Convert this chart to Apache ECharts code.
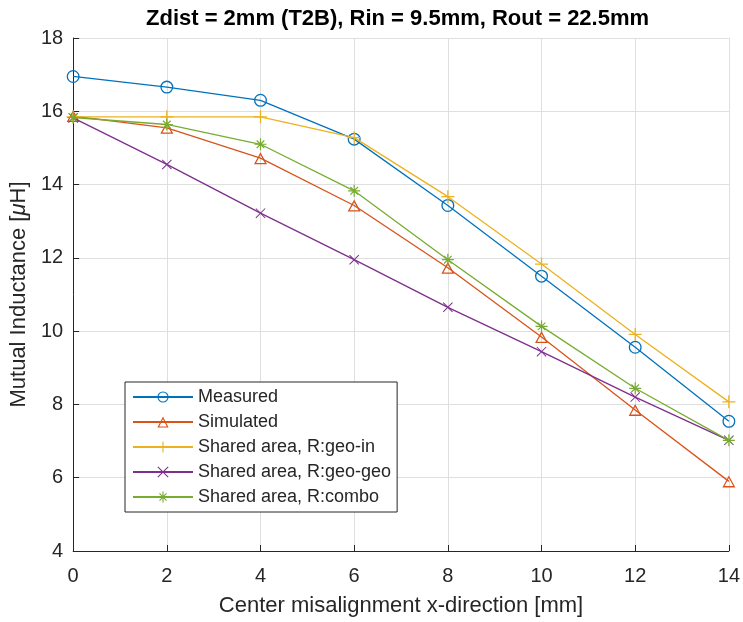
<!DOCTYPE html>
<html>
<head>
<meta charset="utf-8">
<script src="https://cdn.jsdelivr.net/npm/echarts@6/dist/echarts.min.js"></script>
<style>html,body{margin:0;padding:0;background:#fff}#c{width:743px;height:622px}</style>
</head>
<body>
<div id="c"></div>
<script>
const xValues = [0, 2, 4, 6, 8, 10, 12, 14];
const measured = [16.95, 16.66, 16.30, 15.24, 13.43, 11.50, 9.56, 7.54];
const simulated = [15.87, 15.55, 14.72, 13.43, 11.73, 9.84, 7.85, 5.90];
const geoIn = [15.85, 15.85, 15.85, 15.28, 13.67, 11.83, 9.91, 8.07];
const geoGeo = [15.82, 14.55, 13.22, 11.95, 10.65, 9.44, 8.20, 7.02];
const combo = [15.83, 15.64, 15.10, 13.83, 11.95, 10.13, 8.44, 7.02];
const seriesNames = ['Measured', 'Simulated', 'Shared area, R:geo-in', 'Shared area, R:geo-geo', 'Shared area, R:combo'];
const yTicks = [4, 6, 8, 10, 12, 14, 16, 18];

const colors = ['#0072BD', '#D95319', '#EDB120', '#7E2F8E', '#77AC30'];
const symCircle = 'path://M6,0A6,6,0,1,1,6,12A6,6,0,1,1,6,0ZM6,1.2A4.8,4.8,0,1,0,6,10.8A4.8,4.8,0,1,0,6,1.2Z';
const symTri = 'path://M6,0L12,11L0,11ZM6,2.5L1.95,9.8L10.05,9.8Z';
const symPlus = 'path://M5.4,0H6.6V12H5.4ZM0,5.4H12V6.6H0Z';
const symX = 'path://M0,0.85L0.85,0L12,11.15L11.15,12ZM11.15,0L12,0.85L0.85,12L0,11.15Z';
const symStar = 'path://M5.4,0H6.6V12H5.4ZM0,5.4H12V6.6H0ZM1.8,2.65L2.65,1.8L10.2,9.35L9.35,10.2ZM9.35,1.8L10.2,2.65L2.65,10.2L1.8,9.35Z';
const symbols = [symCircle, symTri, symPlus, symX, symStar];
const symSizes = [13, [13, 12], 13, 10, 12];
const dataSets = [measured, simulated, geoIn, geoGeo, combo];

const chart = echarts.init(document.getElementById('c'), null, {renderer: 'canvas'});
const font = 'Arial, "Liberation Sans", Helvetica, sans-serif';
const txt = '#262626';

chart.setOption({
  animation: false,
  backgroundColor: '#fff',
  title: {
    text: 'Zdist = 2mm (T2B), Rin = 9.5mm, Rout = 22.5mm',
    left: 146, top: 8, padding: 0,
    textStyle: {fontFamily: font, fontSize: 22, fontWeight: 'bold', color: '#000'}
  },
  grid: {left: 72, right: 12, top: 38, bottom: 64},
  legend: {
    orient: 'vertical',
    left: 125, top: 382,
    padding: [5, 6, 5, 7],
    itemGap: 5,
    itemWidth: 60, itemHeight: 14,
    backgroundColor: '#fff',
    borderColor: '#262626', borderWidth: 1,
    textStyle: {fontFamily: font, fontSize: 18, color: txt, lineHeight: 20},
    data: seriesNames
  },
  xAxis: {
    type: 'value', min: 0, max: 14, interval: 2,
    name: 'Center misalignment x-direction [mm]',
    nameLocation: 'middle', nameGap: 44,
    nameTextStyle: {fontFamily: font, fontSize: 22, color: txt},
    axisLine: {lineStyle: {color: txt, width: 1}},
    axisTick: {inside: true, length: 6, lineStyle: {color: txt}},
    axisLabel: {fontFamily: font, fontSize: 20, color: txt, margin: 15},
    splitLine: {show: true, lineStyle: {color: '#dfdfdf', width: 1}}
  },
  yAxis: {
    type: 'value', min: yTicks[0], max: yTicks[yTicks.length - 1], interval: 2,
    name: '{a|Mutual Inductance [}{b|μ}{a|H]}',
    nameLocation: 'middle', nameGap: 41,
    nameTextStyle: {
      fontFamily: font, fontSize: 22, color: txt,
      rich: {
        a: {fontFamily: font, fontSize: 22, color: txt},
        b: {fontFamily: font, fontSize: 22, color: txt, fontStyle: 'italic'}
      }
    },
    axisLine: {show: true, lineStyle: {color: txt, width: 1}},
    axisTick: {show: true, inside: true, length: 6, lineStyle: {color: txt}},
    axisLabel: {fontFamily: font, fontSize: 20, color: txt, margin: 10},
    splitLine: {show: true, lineStyle: {color: '#dfdfdf', width: 1}}
  },
  series: seriesNames.map((n, i) => ({
    name: n,
    type: 'line',
    data: xValues.map((x, j) => [x, dataSets[i][j]]),
    color: colors[i],
    symbol: symbols[i],
    symbolSize: symSizes[i],
    showAllSymbol: true,
    lineStyle: {width: 1.3, color: colors[i]},
    itemStyle: {color: colors[i]},
    z: 2 + i
  }))
});
</script>
</body>
</html>
